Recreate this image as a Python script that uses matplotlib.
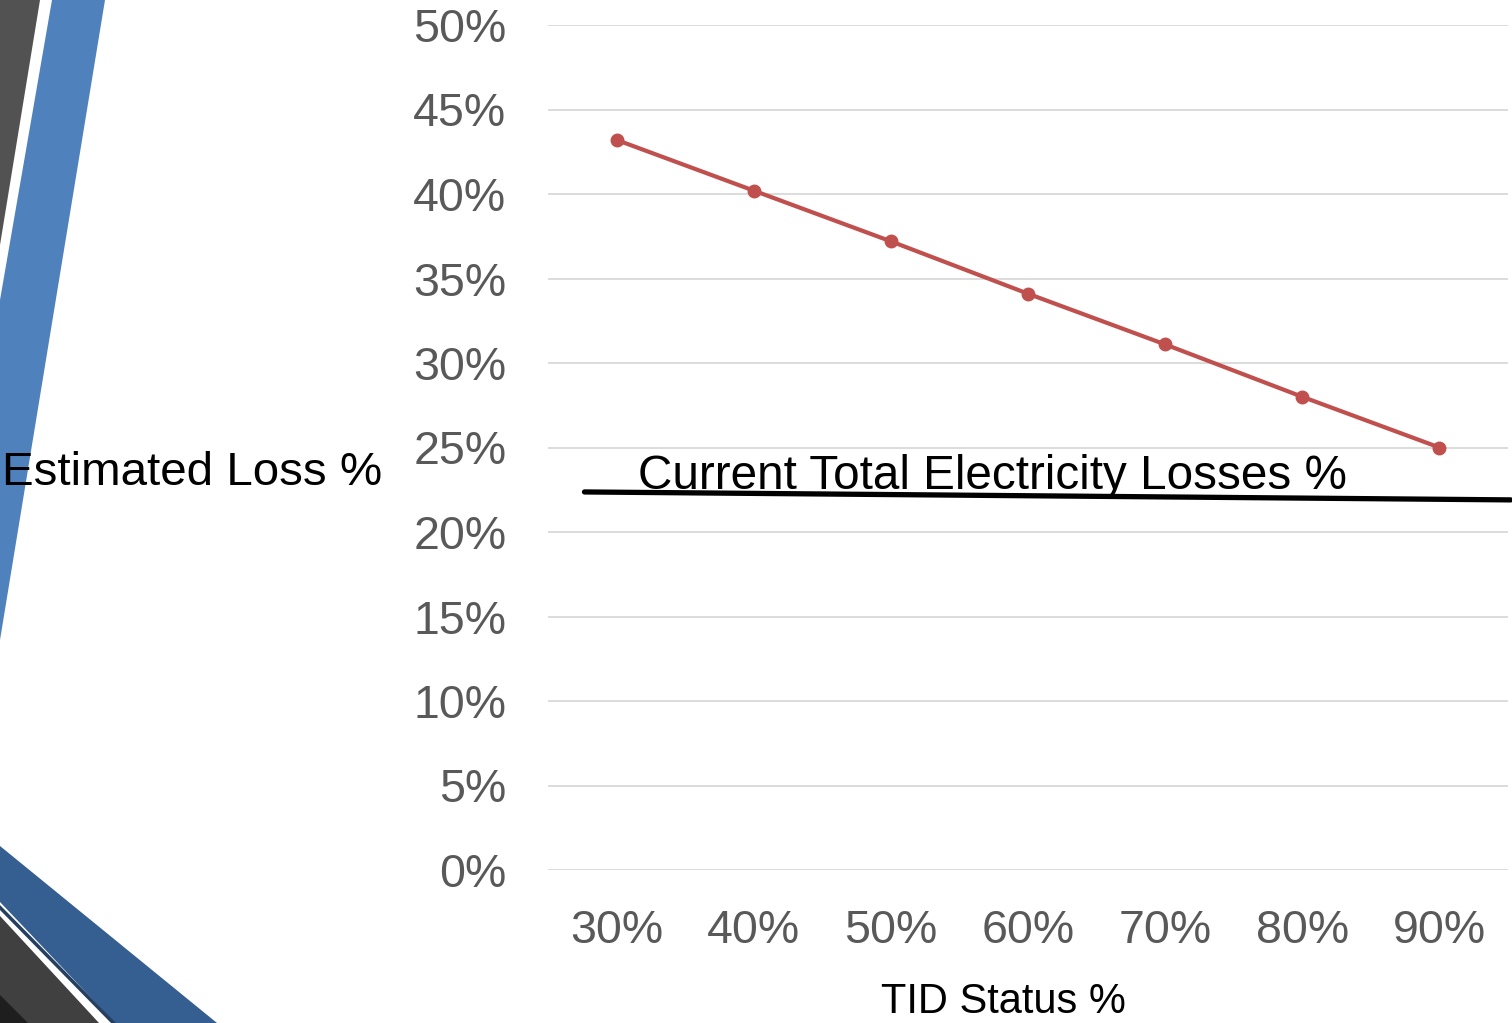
import matplotlib.pyplot as plt
from matplotlib.patches import Polygon
from matplotlib.ticker import PercentFormatter

plt.rcParams['font.family'] = ['Liberation Sans', 'DejaVu Sans']

tid_status = ["30%", "40%", "50%", "60%", "70%", "80%", "90%"]
estimated_loss = [0.432, 0.402, 0.372, 0.341, 0.311, 0.280, 0.250]
current_loss_label = "Current Total Electricity Losses %"
current_loss_ends = [0.2237, 0.219]   # slightly tilted hand-drawn line
y_ticks = [0, 0.05, 0.10, 0.15, 0.20, 0.25, 0.30, 0.35, 0.40, 0.45, 0.50]

fig = plt.figure(figsize=(15.12, 10.23), dpi=100)
W, H = 1512, 1023

# decorative stripes (slide background), in pixel coords
def px(pts):
    return [(x / W, 1 - y / H) for x, y in pts]

deco = [
    ([(0, 0), (40, 0), (0, 245)], "#525252"),
    ([(52, 0), (105, 0), (0, 640), (0, 300)], "#4F81BD"),
    ([(0, 846), (217, 1023), (115, 1023), (0, 902)], "#355F91"),
    ([(0, 905), (116, 1023), (111, 1023), (0, 910)], "#243F60"),
    ([(0, 916), (99, 1023), (0, 1023)], "#404040"),
    ([(0, 995), (28, 1023), (0, 1023)], "#1E1E1E"),
]
for pts, col in deco:
    fig.add_artist(Polygon(px(pts), closed=True, facecolor=col, edgecolor="none",
                           transform=fig.transFigure, zorder=0))

ax = fig.add_axes([548 / W, 1 - 870 / H, 960 / W, 845 / H])
x = list(range(len(tid_status)))
ax.plot(x, estimated_loss, color="#C0504D", lw=3.0, marker="o", ms=9, zorder=3)

ax.set_xlim(-0.5, len(tid_status) - 0.5)
ax.set_ylim(0, 0.5)
ax.set_yticks(y_ticks)
ax.yaxis.set_major_formatter(PercentFormatter(1.0, decimals=0))
ax.set_xticks(x)
ax.set_xticklabels(tid_status)
ax.grid(axis="y", color="#D9D9D9", lw=1.3)
ax.set_axisbelow(True)
for s in ax.spines.values():
    s.set_visible(False)
ax.tick_params(length=0, labelsize=33.5, colors="#595959")
ax.tick_params(axis="y", pad=30)
ax.tick_params(axis="x", pad=28)

fig.text(1003 / W, 1 - 1002 / H, "TID Status %", fontsize=30, color="black",
         ha="center", va="center")
fig.text(382 / W, 1 - 473 / H, "Estimated Loss %", fontsize=34.2, color="black",
         ha="right", va="center")

# current losses line and label
ax.plot([-0.234, 6.52], current_loss_ends, color="black", lw=3.8,
        solid_capstyle="round", clip_on=False, zorder=4)
ax.text(992 / W, 1 - 489 / H, current_loss_label, fontsize=34.3, color="black",
        ha="center", va="baseline", transform=fig.transFigure)

fig.savefig("out.png", dpi=100, facecolor="white")
